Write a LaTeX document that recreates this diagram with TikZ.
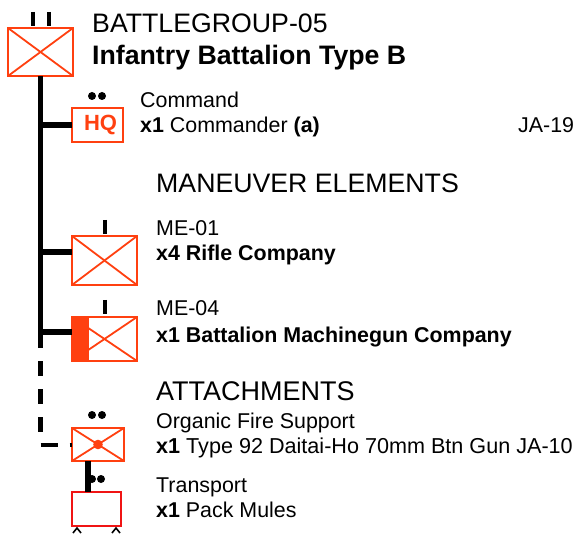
\documentclass[tikz,border=0pt]{standalone}
\usepackage{fontspec}
\setmainfont{Liberation Sans}
\definecolor{unitcolor}{RGB}{255,64,16}
\definecolor{mulecolor}{RGB}{240,20,20}
\tikzset{
  x=1pt, y=-1pt,
  trunkln/.style={line width=5.4pt, black},
  dashln/.style={line width=4.4pt, black, dash pattern=on 15pt off 13pt},
  tickln/.style={line width=4pt, black},
  unitbox/.style={draw=unitcolor, line width=2.4pt, fill=white, inner sep=0pt, outer sep=0pt},
  crossbox/.style={unitbox, path picture={
    \draw[unitcolor, line width=1.8pt] (path picture bounding box.north west) -- (path picture bounding box.south east);
    \draw[unitcolor, line width=1.8pt] (path picture bounding box.south west) -- (path picture bounding box.north east);
  }},
  headtxt/.style={anchor=base west, inner sep=0pt, font=\fontsize{26.7}{30}\selectfont},
  bodytxt/.style={anchor=base west, inner sep=0pt, font=\fontsize{21.4}{25}\selectfont},
}
\newcommand{\echdots}[3]{%
  \fill[black] (#1,#3) circle (4pt);
  \fill[black] (#2,#3) circle (4pt);
}
\begin{document}
\begin{tikzpicture}
    \useasboundingbox (0,0) rectangle (575,534);
    % battlegroup
    \node[crossbox, minimum width=65pt, minimum height=48pt] (bg) at (40.5,52) {};
    \draw[tickln] (33,12) -- (33,26);
    \draw[tickln] (49,12) -- (49,26);
    \node[headtxt] (bgname) at (92,33) {BATTLEGROUP-05};
    \node[headtxt, font=\fontsize{26.7}{30}\selectfont\bfseries] (bgtype) at (92,65) {Infantry Battalion Type B};
    % command
    \node[unitbox, minimum width=51pt, minimum height=34pt, text=unitcolor, font=\fontsize{22}{25}\selectfont\bfseries] (hq) at (97.5,125) {\raisebox{-1.5pt}{\hspace{6pt}HQ}};
    \echdots{92}{102}{96}
    \node[bodytxt] (cmdname) at (140,108) {Command};
    \node[bodytxt] (cmdunit) at (140,133) {\textbf{x1} Commander \textbf{(a)}};
    \node[bodytxt] (cmdcode) at (518,133) {JA-19};
    % maneuver elements
    \node[headtxt] (manhead) at (156,193) {MANEUVER ELEMENTS};
    \node[crossbox, minimum width=65pt, minimum height=49pt] (meone) at (104.5,260.5) {};
    \draw[tickln] (105,220) -- (105,234);
    \node[bodytxt] (meonename) at (156,236) {ME-01};
    \node[bodytxt] (meoneunit) at (156,261) {\textbf{x4 Rifle Company}};
    \node[crossbox, minimum width=65pt, minimum height=44pt] (mefour) at (104.5,339) {};
    \fill[unitcolor] (mefour.north west) rectangle (89,361);
    \draw[tickln] (105,300) -- (105,314);
    \node[bodytxt] (mefourname) at (156,316) {ME-04};
    \node[bodytxt] (mefourunit) at (156,342) {\textbf{x1 Battalion Machinegun Company}};
    % attachments
    \node[headtxt, font=\fontsize{27}{30}\selectfont] (atthead) at (156,400) {ATTACHMENTS};
    \node[crossbox, minimum width=52pt, minimum height=33pt] (gun) at (98,444.5) {};
    \fill[unitcolor] (gun.center) circle (4.8pt);
    \echdots{92}{102}{415}
    \node[bodytxt] (gunname) at (156,428) {Organic Fire Support};
    \node[bodytxt, font=\fontsize{21.6}{25}\selectfont] (gununit) at (156,453) {\textbf{x1} Type 92 Daitai-Ho 70mm Btn Gun JA-10};
    \node[unitbox, draw=mulecolor, minimum width=49pt, minimum height=34pt] (mule) at (96.5,509) {};
    \node[bodytxt] (mulename) at (156,492) {Transport};
    \node[bodytxt] (muleunit) at (156,517) {\textbf{x1} Pack Mules};
    \draw[black, line width=1.6pt] (73,533) -- (77,528) -- (81,533);
    \draw[black, line width=1.6pt] (112,533) -- (116,528) -- (120,533);
    % connectors
    \coordinate (dashtop) at (40.5,333);
    \coordinate (dashcorner) at (40.5,444.5);
    \draw[trunkln] (bg.south) -- (bg.south |- mefour.west);
    \draw[trunkln] (bg.south |- hq.west) -- (hq.west);
    \draw[trunkln] (bg.south |- meone.west) ++(0,-8.5) -- (72,252);
    \draw[trunkln] (bg.south |- mefour.west) ++(0,-7) -- (72,332);
    \draw[dashln] (dashtop) -- (dashcorner |- 0,432);
    \draw[tickln, dash pattern=on 17pt off 12pt on 3pt off 20pt] (dashcorner) -- (gun.west);
    \draw[trunkln] (gun.south -| 88,0) -- (mule.north -| 88,0);
    \echdots{92}{101}{479}
\end{tikzpicture}
\end{document}
